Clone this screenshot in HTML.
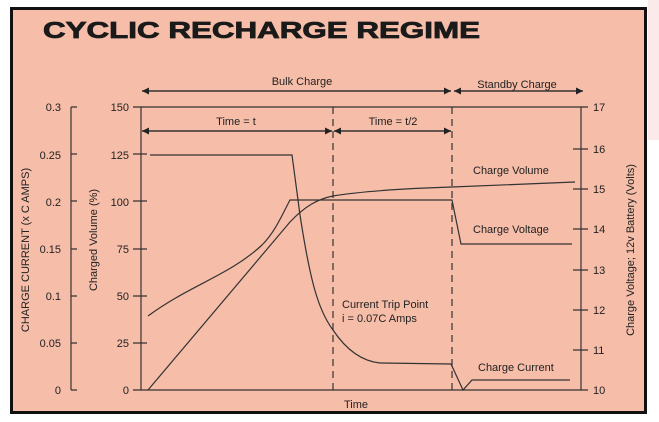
<!DOCTYPE html>
<html><head><meta charset="utf-8"><style>
html,body{margin:0;padding:0;background:#fff;}
svg{display:block;font-family:"Liberation Sans",Arial,sans-serif;}
</style></head><body>
<svg width="659" height="422" viewBox="0 0 659 422" xmlns="http://www.w3.org/2000/svg">
<defs>
<marker id="a" viewBox="0 0 10 10" refX="10" refY="5" markerWidth="9" markerHeight="7" markerUnits="userSpaceOnUse" orient="auto-start-reverse"><path d="M0,0 L10,5 L0,10 z" fill="#222"/></marker>
</defs>
<rect x="648" y="0" width="11" height="140" fill="#fbeaea"/>
<rect x="11.5" y="8.5" width="634" height="404" fill="#f6bda9" stroke="#111" stroke-width="3"/>
<text x="43" y="38" font-size="23" font-weight="bold" fill="#1a1a1a" stroke="#1a1a1a" stroke-width="0.8" textLength="437" lengthAdjust="spacingAndGlyphs">CYCLIC RECHARGE REGIME</text>
<g stroke="#333" fill="none" stroke-width="1.2">
<line x1="133" y1="107" x2="588" y2="107"/>
<line x1="133" y1="390" x2="588" y2="390"/>
<line x1="141" y1="107" x2="141" y2="390"/>
<line x1="581" y1="107" x2="581" y2="390"/>
<line x1="71" y1="107" x2="71" y2="390"/>
<path d="M71 107h6M71 154h6M71 201h6M71 249h6M71 296h6M71 343h6M71 390h6"/>
<path d="M133 154h14M133 201h14M133 249h14M133 296h14M133 343h14"/>
<path d="M573 149h15M573 189h15M573 229h15M573 270h15M573 310h15M573 350h15"/>
<line x1="333" y1="107" x2="333" y2="390" stroke-dasharray="7,5"/>
<line x1="452" y1="107" x2="452" y2="390" stroke-dasharray="7,5"/>
<line x1="142" y1="91" x2="451" y2="91" marker-start="url(#a)" marker-end="url(#a)" stroke-width="1.5"/>
<line x1="454" y1="91" x2="583" y2="91" marker-start="url(#a)" marker-end="url(#a)" stroke-width="1.5"/>
<line x1="142" y1="131" x2="332" y2="131" marker-start="url(#a)" marker-end="url(#a)" stroke-width="1.5"/>
<line x1="334" y1="131" x2="451" y2="131" marker-start="url(#a)" marker-end="url(#a)" stroke-width="1.5"/>
<path d="M150 155 L292 155 L300 215 C310 280 318 310 333 330 C345 348 360 361 380 363 L451 364 L463 390 L472 380 L570 380"/>
<path d="M148 390 L290 222 C305 206 318 199 333 196 C370 190 420 188 452 187 L575 182"/>
<path d="M148 316 C190 285 230 275 262 245 C275 232 282 215 290 200 L452 200 L461 244 L572 244"/>
</g>
<g font-size="11" fill="#222">
<text x="302" y="85" text-anchor="middle">Bulk Charge</text>
<text x="517" y="88" text-anchor="middle">Standby Charge</text>
<text x="236" y="125" text-anchor="middle">Time = t</text>
<text x="393" y="125" text-anchor="middle">Time = t/2</text>
<text x="473" y="174">Charge Volume</text>
<text x="473" y="233">Charge Voltage</text>
<text x="478" y="371">Charge Current</text>
<text x="342" y="308">Current Trip Point</text>
<text x="342" y="322">i = 0.07C Amps</text>
<text x="356" y="408" text-anchor="middle">Time</text>
<g text-anchor="end">
<text x="61" y="111">0.3</text><text x="61" y="159">0.25</text><text x="61" y="206">0.2</text><text x="61" y="253">0.15</text><text x="61" y="300">0.1</text><text x="61" y="347">0.05</text><text x="61" y="394">0</text>
<text x="129" y="111">150</text><text x="129" y="159">125</text><text x="129" y="206">100</text><text x="129" y="253">75</text><text x="129" y="300">50</text><text x="129" y="347">25</text><text x="129" y="394">0</text>
</g>
<text x="593" y="111">17</text><text x="593" y="153">16</text><text x="593" y="193">15</text><text x="593" y="233">14</text><text x="593" y="274">13</text><text x="593" y="314">12</text><text x="593" y="354">11</text><text x="593" y="394">10</text>
<text transform="translate(29,250) rotate(-90)" text-anchor="middle">CHARGE CURRENT (x C AMPS)</text>
<text transform="translate(97,240) rotate(-90)" text-anchor="middle">Charged Volume (%)</text>
<text transform="translate(634,250) rotate(-90)" text-anchor="middle">Charge Voltage; 12v Battery (Volts)</text>
</g>
</svg>
</body></html>
